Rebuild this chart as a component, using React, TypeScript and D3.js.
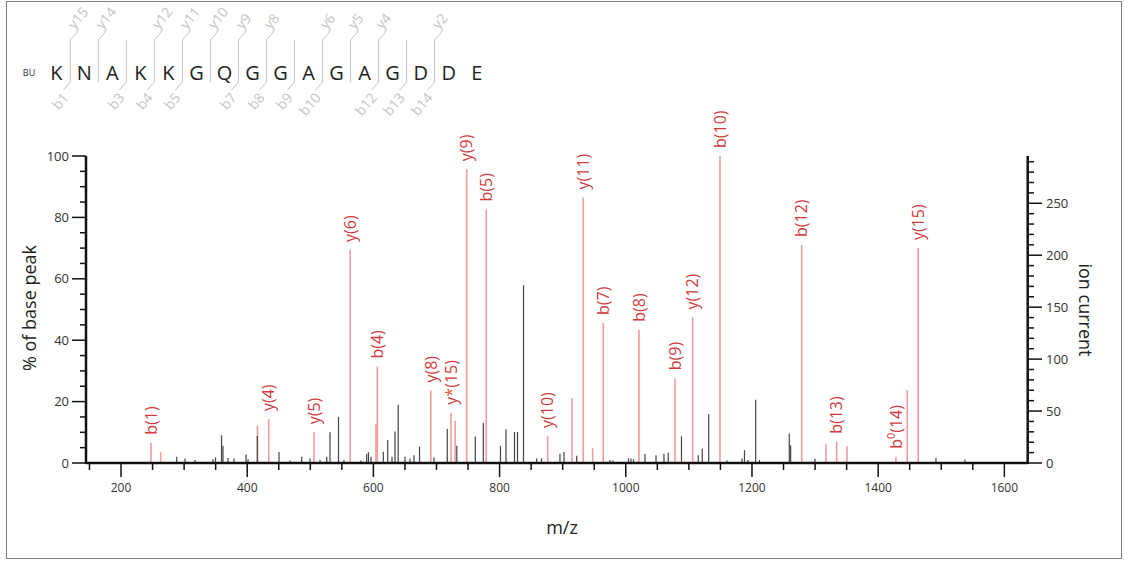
import React from 'react';
import * as d3 from 'd3';

// ---- Data ----
const SEQUENCE = ['K', 'N', 'A', 'K', 'K', 'G', 'Q', 'G', 'G', 'A', 'G', 'A', 'G', 'D', 'D', 'E'];
const Y_IONS = [15, 14, 12, 11, 10, 9, 8, 6, 5, 4, 2];
const B_IONS = [1, 3, 4, 5, 7, 8, 9, 10, 12, 13, 14];

// matched (annotated) peaks
const MATCHED_MZ = [247.5, 262.9, 416.3, 434.1, 505.9, 563.2, 604.1, 606.2, 691.0, 723.0, 729.6, 747.9, 778.9, 876.2, 914.7, 932.6, 947.5, 964.3, 1020.9, 1078.0, 1106.0, 1149.3, 1278.8, 1317.3, 1334.2, 1350.6, 1428.2, 1446.1, 1463.5];
const MATCHED_INT = [6.6, 3.5, 12.2, 14.3, 10.0, 69.4, 12.9, 31.4, 23.6, 16.4, 13.8, 95.7, 82.6, 8.8, 21.1, 86.5, 4.8, 45.6, 43.4, 27.6, 47.4, 100, 71.0, 6.1, 6.9, 5.5, 2.0, 23.7, 70.0];
const MATCHED_LABEL = ['b(1)', '', '', 'y(4)', 'y(5)', 'y(6)', '', 'b(4)', 'y(8)', 'y*(15)', '', 'y(9)', 'b(5)', 'y(10)', '', 'y(11)', '', 'b(7)', 'b(8)', 'b(9)', 'y(12)', 'b(10)', 'b(12)', '', 'b(13)', '', 'b⁰(14)', '', 'y(15)'];

// unmatched peaks
const OTHER_MZ = [288.3, 301.4, 317.3, 345.8, 349.8, 359.3, 361.6, 369.6, 379.1, 398.1, 401.3, 416.0, 450.4, 467.8, 486.4, 499.5, 515.4, 526.0, 531.2, 544.7, 553.4, 580.3, 589.4, 592.2, 596.2, 615.7, 622.7, 629.5, 634.2, 639.3, 650.1, 658.0, 664.3, 673.1, 696.0, 717.1, 732.2, 761.5, 774.2, 801.4, 810.1, 823.6, 828.4, 837.9, 858.8, 866.4, 895.7, 902.1, 922.2, 975.0, 979.7, 1004.3, 1008.2, 1012.2, 1030.4, 1047.9, 1060.5, 1067.3, 1088.3, 1114.9, 1121.2, 1131.4, 1160.4, 1184.2, 1188.1, 1193.7, 1205.9, 1211.9, 1259.1, 1261.3, 1299.8, 1491.6, 1537.6];
const OTHER_INT = [2.0, 1.5, 1.0, 1.2, 1.8, 9.0, 5.6, 1.6, 1.5, 2.8, 1.2, 8.8, 3.6, 0.8, 2.0, 1.5, 1.0, 2.0, 10.0, 15.0, 1.0, 0.8, 3.0, 3.5, 2.0, 3.7, 7.5, 2.0, 10.3, 19.0, 2.0, 1.5, 2.5, 5.3, 1.8, 11.1, 5.6, 8.6, 13.0, 5.6, 11.0, 10.1, 10.1, 57.9, 1.5, 1.5, 3.0, 3.6, 2.4, 1.0, 0.8, 1.5, 1.5, 1.2, 3.0, 2.5, 3.0, 3.3, 8.7, 2.5, 4.7, 16.0, 0.8, 1.5, 4.2, 1.0, 20.6, 1.0, 9.6, 5.8, 1.4, 1.7, 1.1];

const X_DOMAIN = [144.5, 1637];
const Y_MAX = 100;
const ION_MAX = 295.5;
const X_MAJOR = [200, 400, 600, 800, 1000, 1200, 1400, 1600];
const Y_MAJOR = [0, 20, 40, 60, 80, 100];
const ION_MAJOR = [0, 50, 100, 150, 200, 250];

const FONT = "'Open Sans', 'Noto Sans', sans-serif";
const RED_LINE = '#f29c9c';
const RED_TEXT = '#d23a3c';
const DARK = '#444';
const AXIS = '#111';
const FRAG = '#c4c4c4';

function PeakLabel({ x, y, label }: { x: number; y: number; label: string }) {
  const parts: React.ReactNode[] = [];
  if (label.includes('*')) {
    const [a, b] = label.split('*');
    parts.push(<tspan key="a">{a}</tspan>);
    parts.push(<tspan key="s" fill="#e0502a">*</tspan>);
    parts.push(<tspan key="b">{b}</tspan>);
  } else if (label.includes('⁰')) {
    const [a, b] = label.split('⁰');
    parts.push(<tspan key="a">{a}</tspan>);
    parts.push(<tspan key="s" fontSize={11} dy={-7}>0</tspan>);
    parts.push(<tspan key="b" dy={7}>{b}</tspan>);
  } else {
    parts.push(label);
  }
  return (
    <text
      transform={`translate(${x},${y}) rotate(-90)`}
      dy="0.36em"
      fill={RED_TEXT}
      fontSize={16}
      fontFamily={FONT}
      textAnchor="start"
    >
      {parts}
    </text>
  );
}

export default function App() {
  const W = 1124;
  const H = 562;
  const x = d3.scaleLinear().domain(X_DOMAIN).range([86, 1027.7]);
  const y = d3.scaleLinear().domain([0, Y_MAX]).range([463, 156]);
  const yR = d3.scaleLinear().domain([0, ION_MAX]).range([463, 156]);

  const xMinor = d3.range(150, X_DOMAIN[1], 50).filter((v) => !X_MAJOR.includes(v));
  const yMinor = d3.range(0, Y_MAX + 0.1, 5).filter((v) => !Y_MAJOR.includes(v));
  const ionMinor = d3.range(0, ION_MAX, 10).filter((v) => !ION_MAJOR.includes(v));

  const seqX = d3.scalePoint<number>().domain(d3.range(SEQUENCE.length)).range([56.3, 476.7]);
  const step = seqX.step();
  const n = SEQUENCE.length;

  const dividers = d3.range(1, n).filter((i) => B_IONS.includes(i) || Y_IONS.includes(n - i));

  return (
    <svg width={W} height={H} style={{ position: 'absolute', left: 0, top: 0, background: '#fff' }} fontFamily={FONT}>
      <rect x={6.5} y={1.5} width={1115} height={557} fill="#fff" stroke="#808080" strokeWidth={1} />

      {/* sequence */}
      <text x={29} y={76} fontSize={9} fill="#333" textAnchor="middle">BU</text>
      {SEQUENCE.map((aa, i) => (
        <text key={i} x={seqX(i)} y={80} fontSize={20} fill="#222" textAnchor="middle">{aa}</text>
      ))}
      {dividers.map((i) => {
        const dx = (seqX(i - 1) as number) + step / 2;
        const hasB = B_IONS.includes(i);
        const hasY = Y_IONS.includes(n - i);
        return (
          <g key={i} stroke={FRAG} fill="none" strokeWidth={1}>
            <line x1={dx} x2={dx} y1={40} y2={82} />
            {hasY && <line x1={dx} x2={dx + 7} y1={40} y2={32} />}
            {hasB && <line x1={dx} x2={dx - 7} y1={82} y2={90} />}
            {hasY && (
              <text transform={`translate(${dx + 4},${30}) rotate(-50)`} fontSize={14} fill={FRAG} stroke="none">
                {`y${n - i}`}
              </text>
            )}
            {hasB && (
              <text transform={`translate(${dx - 1},${98}) rotate(-50)`} fontSize={14} fill={FRAG} stroke="none" textAnchor="end">
                {`b${i}`}
              </text>
            )}
          </g>
        );
      })}

      {/* matched peaks */}
      {MATCHED_MZ.map((mz, i) => (
        <line key={`m${i}`} x1={x(mz)} x2={x(mz)} y1={y(0)} y2={y(MATCHED_INT[i])} stroke={RED_LINE} strokeWidth={1.6} />
      ))}
      {/* other peaks */}
      {OTHER_MZ.map((mz, i) => (
        <line key={`o${i}`} x1={x(mz)} x2={x(mz)} y1={y(0)} y2={y(OTHER_INT[i])} stroke={DARK} strokeWidth={1.2} />
      ))}
      {/* labels */}
      {MATCHED_MZ.map((mz, i) =>
        MATCHED_LABEL[i] ? <PeakLabel key={`l${i}`} x={x(mz)} y={y(MATCHED_INT[i]) - 8} label={MATCHED_LABEL[i]} /> : null
      )}

      {/* axes */}
      <g stroke={AXIS} fill="none">
        <line x1={86} x2={1027.7} y1={463} y2={463} strokeWidth={2.5} />
        <line x1={86} x2={86} y1={156} y2={464} strokeWidth={2.5} />
        <line x1={1027.7} x2={1027.7} y1={156} y2={464} strokeWidth={2.5} />
        {X_MAJOR.map((v) => <line key={`xM${v}`} x1={x(v)} x2={x(v)} y1={463} y2={477} strokeWidth={1.5} />)}
        {xMinor.map((v) => <line key={`xm${v}`} x1={x(v)} x2={x(v)} y1={463} y2={470} strokeWidth={1.5} />)}
        {Y_MAJOR.map((v) => <line key={`yM${v}`} x1={72} x2={86} y1={y(v)} y2={y(v)} strokeWidth={1.5} />)}
        {yMinor.map((v) => <line key={`ym${v}`} x1={80} x2={86} y1={y(v)} y2={y(v)} strokeWidth={1.5} />)}
        {ION_MAJOR.map((v) => <line key={`rM${v}`} x1={1027.7} x2={1042} y1={yR(v)} y2={yR(v)} strokeWidth={1.5} />)}
        {ionMinor.map((v) => <line key={`rm${v}`} x1={1027.7} x2={1034} y1={yR(v)} y2={yR(v)} strokeWidth={1.5} />)}
      </g>
      {X_MAJOR.map((v) => (
        <text key={`xl${v}`} x={x(v)} y={492} fontSize={12} fill="#333" textAnchor="middle">{v}</text>
      ))}
      {Y_MAJOR.map((v) => (
        <text key={`yl${v}`} x={69} y={y(v)} dy="0.35em" fontSize={13} fill="#333" textAnchor="end">{v}</text>
      ))}
      {ION_MAJOR.map((v) => (
        <text key={`rl${v}`} x={1046} y={yR(v)} dy="0.35em" fontSize={13} fill="#333" textAnchor="start">{v}</text>
      ))}

      <text transform="translate(30,308) rotate(-90)" dy="0.35em" textAnchor="middle" fontSize={18} fill="#222">% of base peak</text>
      <text transform="translate(1085,310) rotate(90)" dy="0.35em" textAnchor="middle" fontSize={18} fill="#222">ion current</text>
      <text x={562} y={534} textAnchor="middle" fontSize={18} fill="#222">m/z</text>
    </svg>
  );
}
